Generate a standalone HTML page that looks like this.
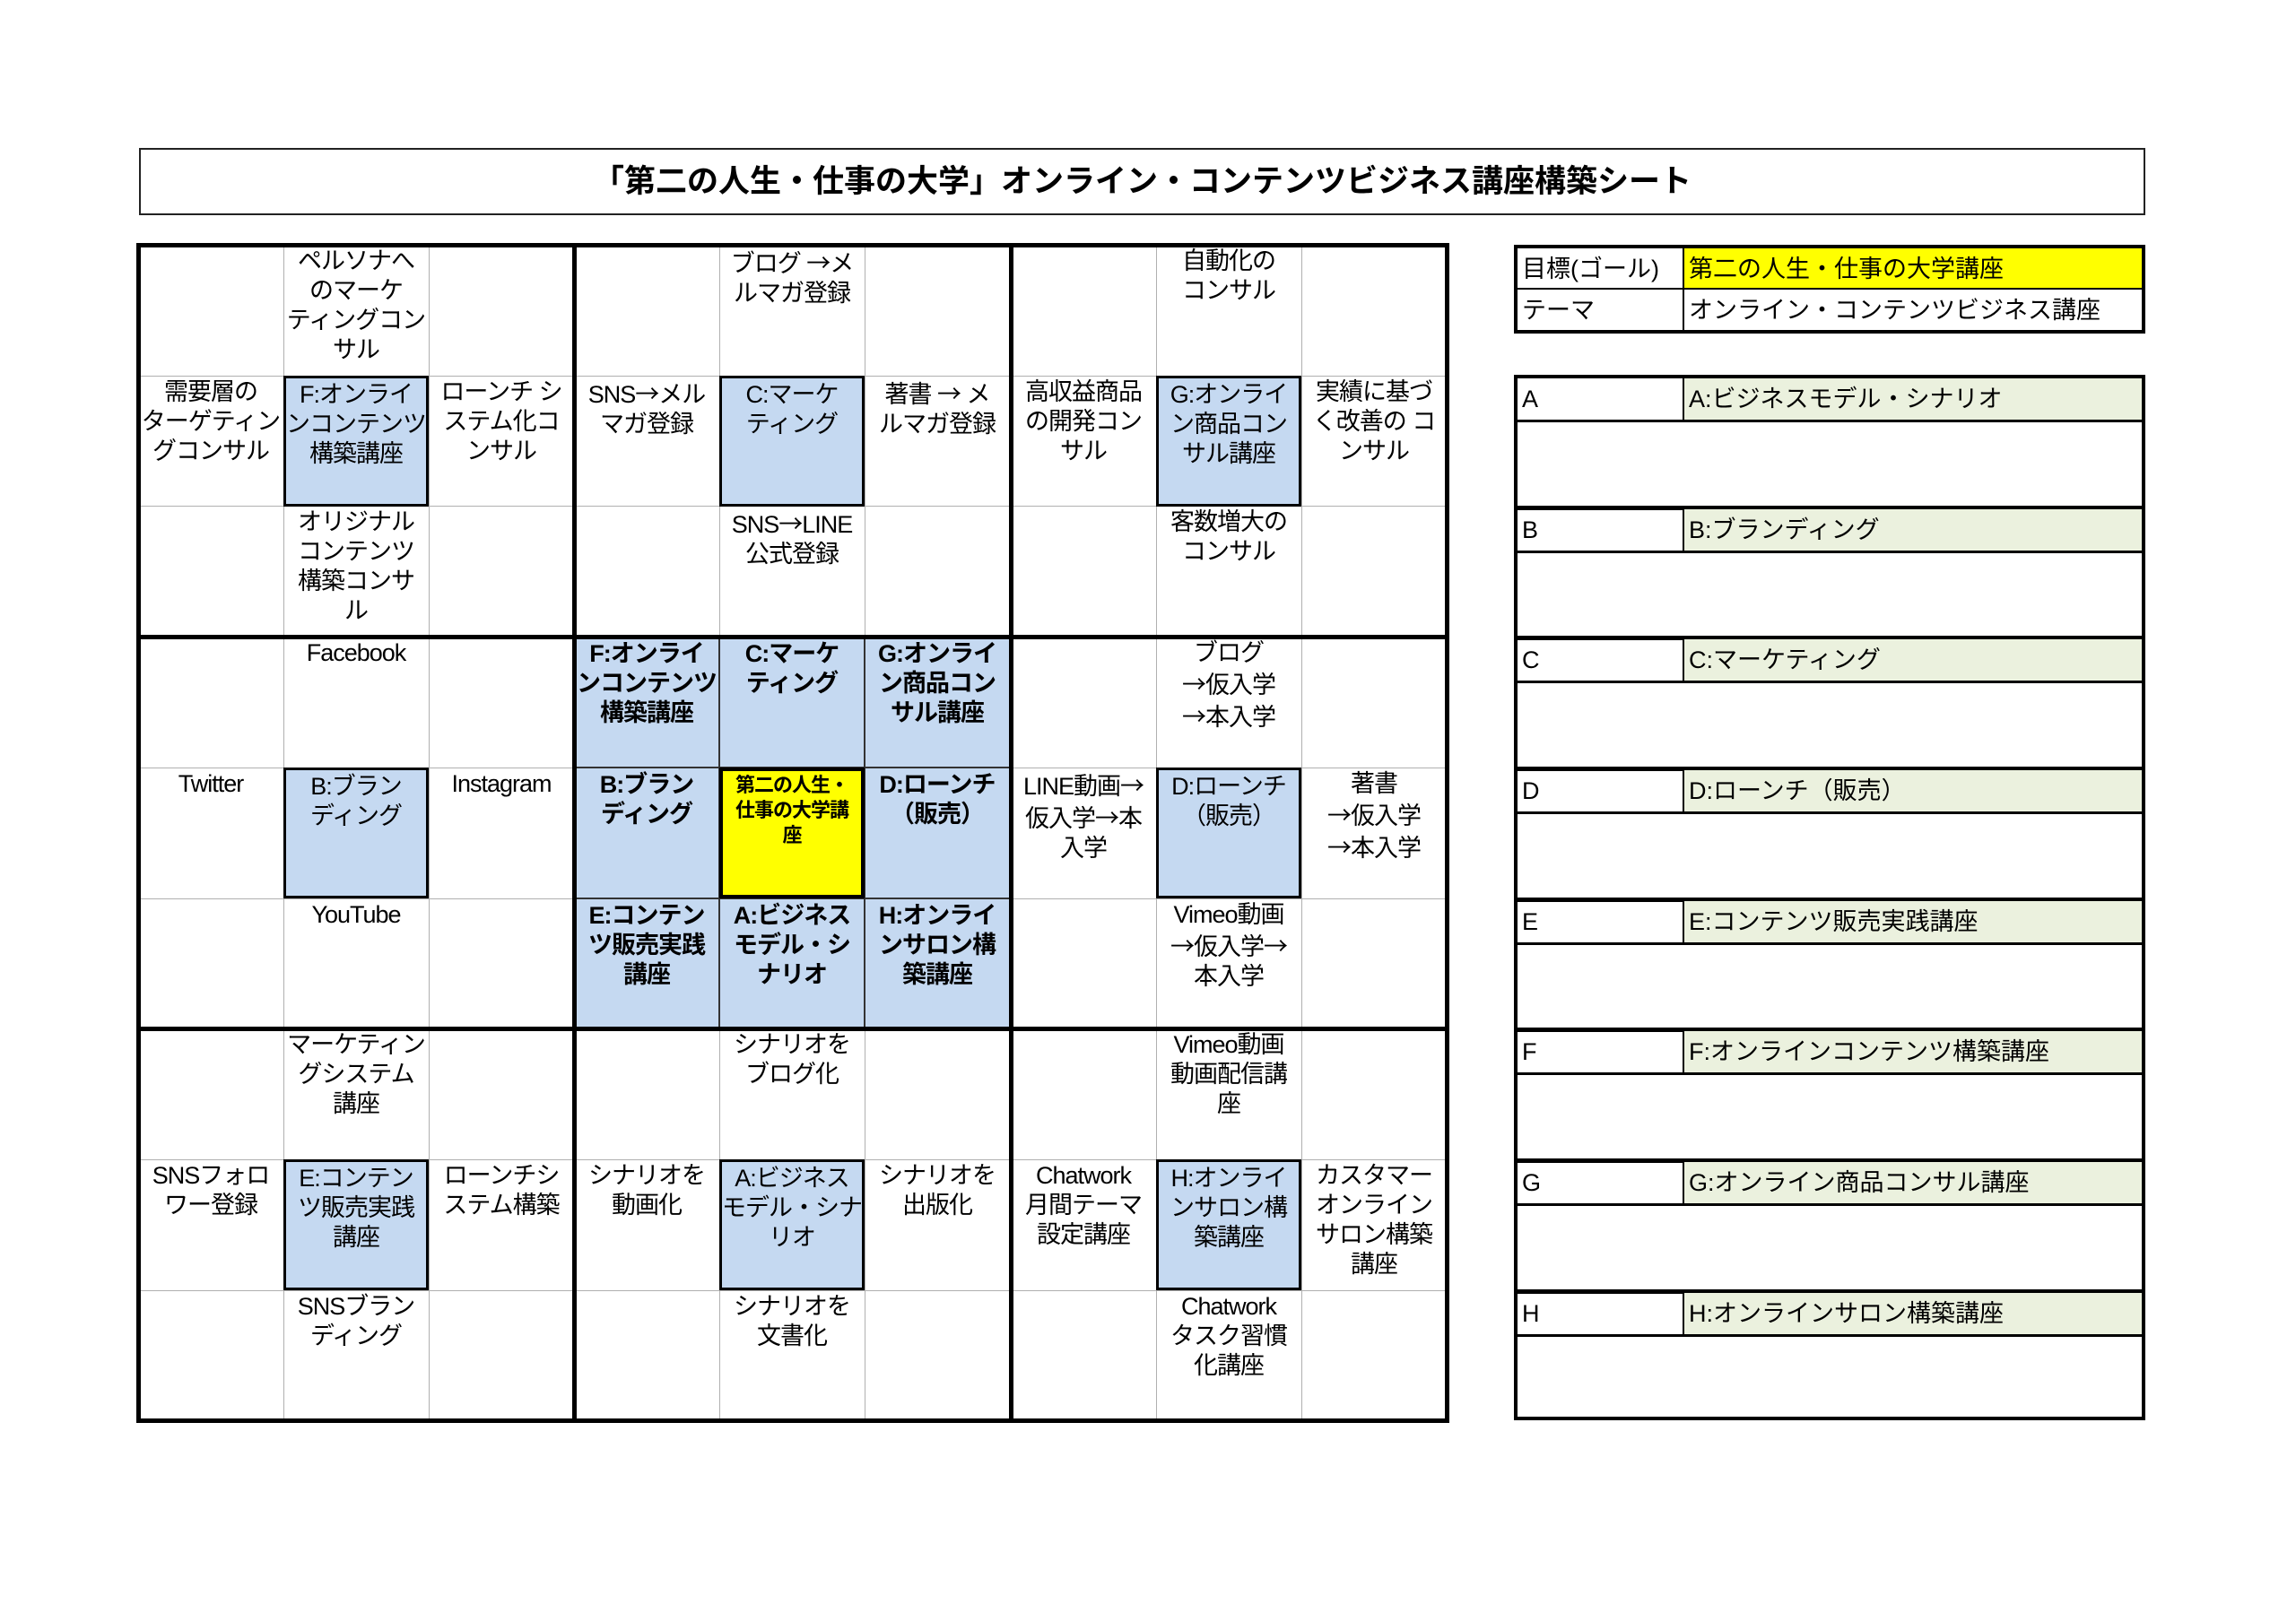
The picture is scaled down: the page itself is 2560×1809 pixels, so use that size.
<!DOCTYPE html>
<html><head><meta charset="utf-8">
<style>
body{margin:0;background:#fff;}
#p{position:relative;width:2560px;height:1809px;overflow:hidden;font-family:"Liberation Sans","Noto Sans CJK JP",sans-serif;color:#000;}
.c{position:absolute;width:162px;height:146px;box-sizing:border-box;text-align:center;font-size:27px;line-height:33px;padding-top:2px;white-space:nowrap;letter-spacing:-1px;}
.b{background:#c5d9f1;border:3px solid #000;}
.m{background:#c5d9f1;border:1px solid #333;font-weight:bold;}
.y{background:#ffff00;border:4px solid #000;font-weight:bold;font-size:22px;line-height:28px;}
.h{position:absolute;height:1px;background:#b0b0b0;}
.v{position:absolute;width:1px;background:#b0b0b0;}
.H{position:absolute;height:5px;background:#000;}
.V{position:absolute;width:5px;background:#000;}
.r{position:absolute;box-sizing:border-box;font-size:27px;line-height:46px;padding-left:5px;white-space:nowrap;}
.a{font-family:"Noto Sans CJK JP",sans-serif;}
</style></head><body><div id="p">
<div style="position:absolute;left:155px;top:165px;width:2237px;height:75px;box-sizing:border-box;border:2px solid #222;text-align:center;font-weight:bold;font-size:35px;line-height:71px;">「第二の人生・仕事の大学」オンライン・コンテンツビジネス講座構築シート</div>

<div class="v" style="left:316px;top:273px;height:1311px"></div>
<div class="v" style="left:478px;top:273px;height:1311px"></div>
<div class="v" style="left:802px;top:273px;height:1311px"></div>
<div class="v" style="left:964px;top:273px;height:1311px"></div>
<div class="v" style="left:1289px;top:273px;height:1311px"></div>
<div class="v" style="left:1451px;top:273px;height:1311px"></div>
<div class="h" style="left:154px;top:419px;width:1459px"></div>
<div class="h" style="left:154px;top:564px;width:1459px"></div>
<div class="h" style="left:154px;top:856px;width:1459px"></div>
<div class="h" style="left:154px;top:1002px;width:1459px"></div>
<div class="h" style="left:154px;top:1293px;width:1459px"></div>
<div class="h" style="left:154px;top:1439px;width:1459px"></div>

<div class="c" style="left:316px;top:273px">ペルソナへ<br>のマーケ<br>ティングコン<br>サル</div>
<div class="c" style="left:154px;top:419px">需要層の<br>ターゲティン<br>グコンサル</div>
<div class="c b" style="left:316px;top:419px">F:オンライ<br>ンコンテンツ<br>構築講座</div>
<div class="c" style="left:478px;top:419px">ローンチ シ<br>ステム化コ<br>ンサル</div>
<div class="c" style="left:316px;top:564px">オリジナル<br>コンテンツ<br>構築コンサ<br>ル</div>

<div class="c" style="left:802px;top:273px">ブログ <span class="a">→</span>メ<br>ルマガ登録</div>
<div class="c" style="left:640px;top:419px">SNS<span class="a">→</span>メル<br>マガ登録</div>
<div class="c b" style="left:802px;top:419px">C:マーケ<br>ティング</div>
<div class="c" style="left:964px;top:419px">著書 <span class="a">→</span> メ<br>ルマガ登録</div>
<div class="c" style="left:802px;top:564px">SNS<span class="a">→</span>LINE<br>公式登録</div>

<div class="c" style="left:1289px;top:273px">自動化の<br>コンサル</div>
<div class="c" style="left:1127px;top:419px">高収益商品<br>の開発コン<br>サル</div>
<div class="c b" style="left:1289px;top:419px">G:オンライ<br>ン商品コン<br>サル講座</div>
<div class="c" style="left:1451px;top:419px">実績に基づ<br>く改善の コ<br>ンサル</div>
<div class="c" style="left:1289px;top:564px">客数増大の<br>コンサル</div>

<div class="c" style="left:316px;top:710px">Facebook</div>
<div class="c" style="left:154px;top:856px">Twitter</div>
<div class="c b" style="left:316px;top:856px">B:ブラン<br>ディング</div>
<div class="c" style="left:478px;top:856px">Instagram</div>
<div class="c" style="left:316px;top:1002px">YouTube</div>

<div class="c m" style="left:640px;top:710px">F:オンライ<br>ンコンテンツ<br>構築講座</div>
<div class="c m" style="left:802px;top:710px">C:マーケ<br>ティング</div>
<div class="c m" style="left:964px;top:710px">G:オンライ<br>ン商品コン<br>サル講座</div>
<div class="c m" style="left:640px;top:856px">B:ブラン<br>ディング</div>
<div class="c y" style="left:802px;top:856px">第二の人生・<br>仕事の大学講<br>座</div>
<div class="c m" style="left:964px;top:856px">D:ローンチ<br>（販売）</div>
<div class="c m" style="left:640px;top:1002px">E:コンテン<br>ツ販売実践<br>講座</div>
<div class="c m" style="left:802px;top:1002px">A:ビジネス<br>モデル・シ<br>ナリオ</div>
<div class="c m" style="left:964px;top:1002px">H:オンライ<br>ンサロン構<br>築講座</div>

<div class="c" style="left:1289px;top:710px">ブログ<br><span class="a">→</span>仮入学<br><span class="a">→</span>本入学</div>
<div class="c" style="left:1127px;top:856px">LINE動画<span class="a">→</span><br>仮入学<span class="a">→</span>本<br>入学</div>
<div class="c b" style="left:1289px;top:856px">D:ローンチ<br>（販売）</div>
<div class="c" style="left:1451px;top:856px">著書<br><span class="a">→</span>仮入学<br><span class="a">→</span>本入学</div>
<div class="c" style="left:1289px;top:1002px">Vimeo動画<br><span class="a">→</span>仮入学<span class="a">→</span><br>本入学</div>

<div class="c" style="left:316px;top:1147px">マーケティン<br>グシステム<br>講座</div>
<div class="c" style="left:154px;top:1293px">SNSフォロ<br>ワー登録</div>
<div class="c b" style="left:316px;top:1293px">E:コンテン<br>ツ販売実践<br>講座</div>
<div class="c" style="left:478px;top:1293px">ローンチシ<br>ステム構築</div>
<div class="c" style="left:316px;top:1439px">SNSブラン<br>ディング</div>

<div class="c" style="left:802px;top:1147px">シナリオを<br>ブログ化</div>
<div class="c" style="left:640px;top:1293px">シナリオを<br>動画化</div>
<div class="c b" style="left:802px;top:1293px">A:ビジネス<br>モデル・シナ<br>リオ</div>
<div class="c" style="left:964px;top:1293px">シナリオを<br>出版化</div>
<div class="c" style="left:802px;top:1439px">シナリオを<br>文書化</div>

<div class="c" style="left:1289px;top:1147px">Vimeo動画<br>動画配信講<br>座</div>
<div class="c" style="left:1127px;top:1293px">Chatwork<br>月間テーマ<br>設定講座</div>
<div class="c b" style="left:1289px;top:1293px">H:オンライ<br>ンサロン構<br>築講座</div>
<div class="c" style="left:1451px;top:1293px">カスタマー<br>オンライン<br>サロン構築<br>講座</div>
<div class="c" style="left:1289px;top:1439px">Chatwork<br>タスク習慣<br>化講座</div>

<div class="V" style="left:152px;top:271px;height:1316px"></div>
<div class="V" style="left:638px;top:271px;height:1316px"></div>
<div class="V" style="left:1125px;top:271px;height:1316px"></div>
<div class="V" style="left:1611px;top:271px;height:1316px"></div>
<div class="H" style="left:152px;top:271px;width:1464px"></div>
<div class="H" style="left:152px;top:708px;width:1464px"></div>
<div class="H" style="left:152px;top:1145px;width:1464px"></div>
<div class="H" style="left:152px;top:1582px;width:1464px"></div>

<div style="position:absolute;left:1688px;top:273px;width:704px;height:99px;box-sizing:border-box;border:4px solid #000;">
 <div class="r" style="left:0;top:0;width:186px;height:46px;border-right:2px solid #000;border-bottom:2px solid #000;">目標(ゴール)</div>
 <div class="r" style="left:186px;top:0;width:510px;height:46px;background:#ffff00;border-bottom:2px solid #000;">第二の人生・仕事の大学講座</div>
 <div class="r" style="left:0;top:46px;width:186px;height:45px;border-right:2px solid #000;">テーマ</div>
 <div class="r" style="left:186px;top:46px;width:510px;height:45px;">オンライン・コンテンツビジネス講座</div>
</div>

<div style="position:absolute;left:1688px;top:418px;width:704px;height:1166px;box-sizing:border-box;border:4px solid #000;">
 <div class="r" style="left:0;top:0;width:186px;height:49px;border-right:2px solid #000;border-bottom:3px solid #000;">A</div>
 <div class="r" style="left:186px;top:0;width:510px;height:49px;background:#ebf1de;border-bottom:3px solid #000;">A:ビジネスモデル・シナリオ</div>
 <div class="r" style="left:0;top:142px;width:696px;height:5px;background:#000;padding:0"></div>
 <div class="r" style="left:0;top:146px;width:186px;height:49px;border-right:2px solid #000;border-bottom:3px solid #000;">B</div>
 <div class="r" style="left:186px;top:146px;width:510px;height:49px;background:#ebf1de;border-bottom:3px solid #000;">B:ブランディング</div>
 <div class="r" style="left:0;top:287px;width:696px;height:5px;background:#000;padding:0"></div>
 <div class="r" style="left:0;top:291px;width:186px;height:49px;border-right:2px solid #000;border-bottom:3px solid #000;">C</div>
 <div class="r" style="left:186px;top:291px;width:510px;height:49px;background:#ebf1de;border-bottom:3px solid #000;">C:マーケティング</div>
 <div class="r" style="left:0;top:433px;width:696px;height:5px;background:#000;padding:0"></div>
 <div class="r" style="left:0;top:437px;width:186px;height:49px;border-right:2px solid #000;border-bottom:3px solid #000;">D</div>
 <div class="r" style="left:186px;top:437px;width:510px;height:49px;background:#ebf1de;border-bottom:3px solid #000;">D:ローンチ（販売）</div>
 <div class="r" style="left:0;top:579px;width:696px;height:5px;background:#000;padding:0"></div>
 <div class="r" style="left:0;top:583px;width:186px;height:49px;border-right:2px solid #000;border-bottom:3px solid #000;">E</div>
 <div class="r" style="left:186px;top:583px;width:510px;height:49px;background:#ebf1de;border-bottom:3px solid #000;">E:コンテンツ販売実践講座</div>
 <div class="r" style="left:0;top:724px;width:696px;height:5px;background:#000;padding:0"></div>
 <div class="r" style="left:0;top:728px;width:186px;height:49px;border-right:2px solid #000;border-bottom:3px solid #000;">F</div>
 <div class="r" style="left:186px;top:728px;width:510px;height:49px;background:#ebf1de;border-bottom:3px solid #000;">F:オンラインコンテンツ構築講座</div>
 <div class="r" style="left:0;top:870px;width:696px;height:5px;background:#000;padding:0"></div>
 <div class="r" style="left:0;top:874px;width:186px;height:49px;border-right:2px solid #000;border-bottom:3px solid #000;">G</div>
 <div class="r" style="left:186px;top:874px;width:510px;height:49px;background:#ebf1de;border-bottom:3px solid #000;">G:オンライン商品コンサル講座</div>
 <div class="r" style="left:0;top:1016px;width:696px;height:5px;background:#000;padding:0"></div>
 <div class="r" style="left:0;top:1020px;width:186px;height:49px;border-right:2px solid #000;border-bottom:3px solid #000;">H</div>
 <div class="r" style="left:186px;top:1020px;width:510px;height:49px;background:#ebf1de;border-bottom:3px solid #000;">H:オンラインサロン構築講座</div>
</div>
</div></body></html>
